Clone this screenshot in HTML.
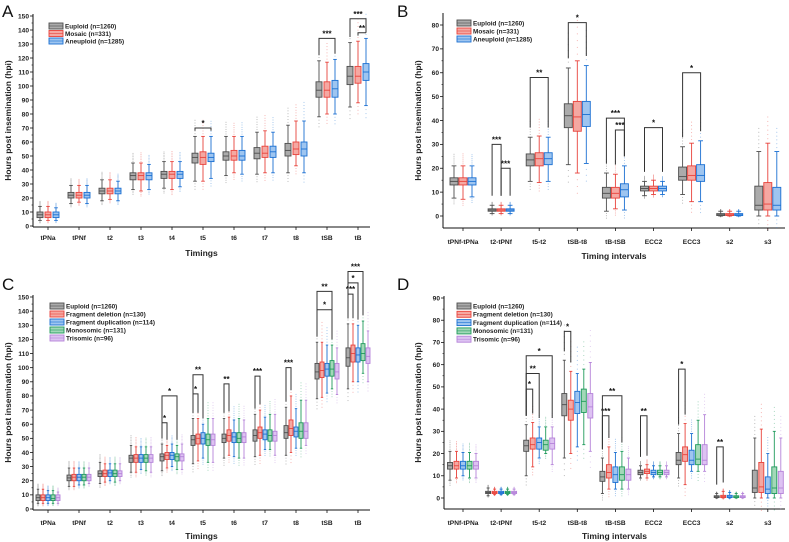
<!DOCTYPE html>
<html><head><meta charset="utf-8"><style>
html,body{margin:0;padding:0;background:#fff;}
svg{display:block;font-family:"Liberation Sans",Arial,sans-serif;}
.t{font-size:6.6px;font-weight:bold;fill:#222;}
.ttl{font-size:8.5px;font-weight:bold;fill:#222;}
.lg{font-size:6.4px;font-weight:bold;fill:#222;}
.pl{font-size:17px;fill:#111;}
.st{font-size:8px;font-weight:bold;fill:#111;}
</style></head><body>
<svg id="fig" width="789" height="542" viewBox="0 0 789 542" xmlns="http://www.w3.org/2000/svg"></svg>
<script>
// ---------- data ----------
const catsA = ["tPNa","tPNf","t2","t3","t4","t5","t6","t7","t8","tSB","tB"];
const catsB = ["tPNf-tPNa","t2-tPNf","t5-t2","tSB-t8","tB-tSB","ECC2","ECC3","s2","s3"];
const groups3 = ["Euploid (n=1260)","Mosaic (n=331)","Aneuploid (n=1285)"];
const groups5 = ["Euploid (n=1260)","Fragment deletion (n=130)","Fragment duplication (n=114)","Monosomic (n=131)","Trisomic (n=96)"];
// box = [q1, median, q3, whiskerLow, whiskerHigh]
const aEuploid  = [[6,8,10,4,14],[20,22,24,16,29],[23,25,27,18,33],[33,36,38,26,45],[34,37,39,27,46],[45,49,52,32,64],[47,50,53,36,64],[48,52,56,37,67],[50,54,59,38,72],[92,97,103,78,118],[101,107,114,85,131]];
const aMosaic   = [[6,8,10,4,14],[20,22,24,17,29],[23,25,27,19,33],[33,36,38,25,45],[34,37,39,26,46],[44,49,53,32,64],[47,50,54,38,64],[49,52,57,38,68],[51,55,60,43,75],[92,97,103,80,117],[102,107,114,88,132]];
const aAneuploid= [[6,8,10,4,13],[20,22,24,16,29],[23,25,27,18,32],[33,36,38,26,44],[34,37,39,28,46],[46,49,52,34,64],[47,50,54,37,64],[49,53,57,38,67],[50,55,60,38,75],[92,98,104,80,119],[104,110,116,86,134]];
const bEuploid  = [[13,14.5,16,7.5,21],[2,2.5,3,1,4.5],[21,23.5,26,14.5,33],[37,42,47,21.5,62],[7.5,9.5,12,2,18],[10.5,11.5,12.5,8.5,14.5],[15,16.5,20.5,9,29],[0.2,0.5,1,0,2],[2.5,4.5,12.5,0,27]];
const bMosaic   = [[13,14.5,16,7,21],[2,2.5,3,1,4.5],[21,24,26.5,14,33.5],[35.5,41.5,48,18,65],[7.5,9.5,12,3,17.5],[10.5,11.5,12.5,9,15],[15,17,21,6,30.5],[0.2,0.5,1,0,2],[2.5,5,14,0,30.5]];
const bAneuploid= [[13,14.5,16,8,21],[2,2.5,3,1,4.5],[21.5,24,26.5,14.5,33],[37.5,42.5,48,22,63],[8,11,13.5,2.5,21],[10.5,11.5,12.5,9,14.5],[14.5,17,21.5,6,31.5],[0.2,0.5,1,0,2],[2.5,4.5,12,0,27]];
const cEuploid  = aEuploid;
const cDeletion = [[6,8,10,4,14],[20,22.5,24.5,16,29],[23,25,27.5,19,32],[33,36,38.5,26,44],[35,38,40,29,45],[46,50,53,34,64],[48,52,56,38,65],[50,54,58,38,70],[52,57,63,40,80],[93,98,104,79,118],[104,110,116,90,131]];
const cDuplic   = [[6,8,10,4,13],[20,22.5,24.5,17,29],[23,25.5,27.5,20,32],[33,36,38.5,28,44],[35,38,40,30,46],[46,50,54,36,60],[47,51,54,37,63],[49,53,56,42,65],[51,55,58,43,71],[94,99,103,82,116],[104,109,114,90,130]];
const cMono     = [[6,7.5,10,4,13],[20,22.5,24.5,17,29],[23,25,27.5,19,32],[33,36,38.5,27,44],[34,37,39,28,45],[45,49,53,33,64],[47,50,54,36,64],[48,52,56,42,67],[50,55,61,43,77],[94,99,105,85,116],[105,110,117,96,133]];
const cTri      = [[6,8,10,4,12],[20,22.5,24.5,18,29],[23,25,27,20,32],[33,36,38.5,26,44],[34,37,39,28,46],[45,49,53,33,64],[47,51,54,36,63],[48,52,55,38,67],[50,55,61,45,77],[92,97,103,81,114],[103,108,114,90,126]];
const dEuploid  = [[13,14.5,16,8,21],[2,2.5,3,1,4.5],[21,23.5,26,10,33],[37,42,47,18,62],[7.5,9.5,12,2,18],[10.5,11.5,12.5,9,14.5],[15,17,20.5,9,29],[0.2,0.5,1,0,2],[2.5,4.5,12.5,0,27]];
const dDeletion = [[13,14.5,16.5,9,21],[2,2.5,3,1.5,4],[22,24,27,14,34],[35,40,44,20,57],[9,11.5,15,4,23],[11,12,13,9,15],[16.5,19.5,23,6,33.5],[0.2,0.6,1.2,0,3],[2.5,5,16,0,31]];
const dDuplic   = [[13,14.5,16.5,10,20.5],[2,2.5,3,1.5,4],[22,25,27,18,32],[38,43,48,23,56],[7,10.5,14,4,20.5],[10.5,11.5,12.5,9.5,14.5],[15,17,21.5,12,29],[0.2,0.5,1.2,0,2.5],[2,4,9.5,0,20]];
const dMono     = [[13,14.5,16.5,9,20.5],[2,2.5,3,1.5,4],[21.5,24,26,20,32],[38.5,43.5,49,24,58],[8,10.5,14,4,21],[10.5,11.5,12.5,9.5,14.5],[15,17.5,24,12,35],[0.2,0.5,1,0,2],[2,4.5,14,0,30]];
const dTri      = [[13,14.5,16.5,9,20],[2,2.5,3,1.5,4],[22,24.5,27,15,32],[36,41,47,21,61],[8,10.5,13,4,18],[10.5,11.5,12.5,9.5,14.5],[15,17,24,12,37.5],[0.2,0.5,1,0,2],[2,4.5,12,0,27]];
// brackets = [category index, group from, group to, value, label]
const bracketsA = [[5,0,2,70,"*"],[9,0,2,134,"***"],[10,0,2,148,"***"],[10,1,2,138,"**"]];
const bracketsB = [[1,0,1,30,"***"],[1,1,2,20,"***"],[2,0,2,58,"**"],[3,0,2,81,"*"],[4,0,2,41,"***"],[4,1,2,36,"***"],[5,0,2,37,"*"],[6,0,2,60,"*"]];
const bracketsC = [[4,0,1,61,"*"],[4,0,3,80,"*"],[5,0,1,81.5,"*"],[5,0,2,95,"**"],[6,0,1,88.5,"**"],[7,0,1,94,"***"],[8,0,1,100,"***"],[9,0,3,141,"*"],[9,0,3,154,"**"],[10,0,1,152,"***"],[10,0,2,160,"*"],[10,0,3,168,"***"]];
const bracketsD = [[2,0,1,49,"*"],[2,0,2,56,"**"],[2,0,4,64,"*"],[3,0,1,75,"*"],[4,0,1,37,"***"],[4,0,3,46,"**"],[5,0,1,37,"**"],[6,0,1,58,"*"],[7,0,1,23,"**"]];
const ticksA = [0,10,20,30,40,50,60,70,80,90,100,110,120,130,140,150];
const ticksB = [0,10,20,30,40,50,60,70,80];
const ticksD = [0,10,20,30,40,50,60,70,80,90];

// ---------- styling ----------
const fills3 = ["#ababab","#f5a8a2","#9ec5f0"], strokes3 = ["#4d4d4d","#e8423b","#1a6fd2"];
const fills5 = ["#ababab","#f5a8a2","#9ec5f0","#a2d8b8","#ddc2f2"], strokes5 = ["#4d4d4d","#e8423b","#1a6fd2","#1f9a5b","#b583d9"];
const NS = "http://www.w3.org/2000/svg";
const svg = document.getElementById('fig');
function mk(tag, attrs, parent){const e=document.createElementNS(NS,tag);for(const k in attrs)e.setAttribute(k,attrs[k]);(parent||svg).appendChild(e);return e;}
function txt(s, attrs, parent){const e=mk('text',attrs,parent);e.textContent=s;return e;}

function panel(cfg){
  const g = mk('g',{});
  
  
  const y = v => cfg.py0 + (v - cfg.v0) * (cfg.py1 - cfg.py0) / (cfg.v1 - cfg.v0);
  const cx = i => cfg.cx0 + i * cfg.cstep;
  const gx = (i, k) => cx(i) + (k - (cfg.series.length - 1) / 2) * cfg.gstep;
  const ax = mk('g',{},g);
  
  
  mk('line',{x1:cfg.ax0,y1:cfg.axTop,x2:cfg.ax0,y2:cfg.axBot,stroke:'#111','stroke-width':1},ax);
  mk('line',{x1:cfg.ax0,y1:cfg.axBot,x2:cfg.ax1,y2:cfg.axBot,stroke:'#111','stroke-width':1},ax);
  cfg.ticks.forEach(t=>{
    mk('line',{x1:cfg.ax0-3,y1:y(t),x2:cfg.ax0,y2:y(t),stroke:'#111','stroke-width':0.8},ax);
    const tl = txt(String(t),{x:cfg.ax0-4,y:y(t)+2.3,'text-anchor':'end',class:'t'},ax);
    
    
  });
  for(let v=cfg.ticks[0]+5; v<cfg.ticks[cfg.ticks.length-1]; v+=10){
    mk('line',{x1:cfg.ax0-1.5,y1:y(v),x2:cfg.ax0,y2:y(v),stroke:'#111','stroke-width':0.6},ax);
  }
  cfg.cats.forEach((c,i)=>{
    mk('line',{x1:cx(i),y1:cfg.axBot,x2:cx(i),y2:cfg.axBot+3,stroke:'#111','stroke-width':0.8},ax);
    const cl = txt(c,{x:cx(i),y:cfg.labY,'text-anchor':'middle',class:'t'},ax);
    
    
  });
  const xt = txt(cfg.xTitle,{x:(cfg.ax0+cfg.ax1)/2,y:cfg.xTitleY,'text-anchor':'middle',class:'ttl'},g);
  
  
  const yt = txt('Hours post insemination (hpi)',{x:0,y:0,'text-anchor':'middle',class:'ttl',transform:`translate(${cfg.yTitleX},${(cfg.axTop+cfg.axBot)/2}) rotate(-90)`},g);
  
  
  const pl = txt(cfg.letter,{x:cfg.letterX,y:cfg.letterY,class:'pl'},g);
  
  
  const bw = cfg.bw;
  cfg.series.forEach((s,k)=>{
    const fill = cfg.fills[k], st = cfg.strokes[k];
    s.forEach((b,i)=>{
      const x = gx(i,k);
      const bg = mk('g',{},g);
      
      
      for(let d=1; d<=6; d++){
        mk('circle',{cx:x,cy:y(b[4]+d*(b[4]-b[3])*0.06),r:0.5,fill:st,opacity:0.5},bg);
      }
      for(let d=1; d<=3; d++){
        mk('circle',{cx:x,cy:y(b[3]-d*(b[4]-b[3])*0.06),r:0.5,fill:st,opacity:0.5},bg);
      }
      mk('line',{x1:x,y1:y(b[3]),x2:x,y2:y(b[4]),stroke:st,'stroke-width':0.9},bg);
      mk('line',{x1:x-bw*0.3,y1:y(b[3]),x2:x+bw*0.3,y2:y(b[3]),stroke:st,'stroke-width':0.9},bg);
      mk('line',{x1:x-bw*0.3,y1:y(b[4]),x2:x+bw*0.3,y2:y(b[4]),stroke:st,'stroke-width':0.9},bg);
      mk('rect',{x:x-bw/2,y:y(b[2]),width:bw,height:Math.max(0.8,y(b[0])-y(b[2])),fill:fill,stroke:st,'stroke-width':0.9},bg);
      mk('line',{x1:x-bw/2,y1:y(b[1]),x2:x+bw/2,y2:y(b[1]),stroke:st,'stroke-width':0.9},bg);
    });
  });
  cfg.brackets.forEach(br=>{
    const [i,a,b,v,lab] = br;
    const xa = gx(i,a), xb = gx(i,b);
    const da = cfg.series[a][i][4] + cfg.gap, db = cfg.series[b][i][4] + cfg.gap;
    const bg = mk('g',{},g);
    
    
    mk('polyline',{points:`${xa},${y(Math.min(da,v))} ${xa},${y(v)} ${xb},${y(v)} ${xb},${y(Math.min(db,v))}`,fill:'none',stroke:'#333','stroke-width':1},bg);
    txt(lab,{x:(xa+xb)/2,y:y(v)-2,'text-anchor':'middle',class:'st'},bg);
  });
  const lg = mk('g',{},g);
  
  
  cfg.legendNames.forEach((n,k)=>{
    const yy = cfg.lgY0 + k*cfg.lgStep;
    const e = mk('g',{},lg);
    
    
    mk('rect',{x:cfg.lgX,y:yy-3,width:14,height:6,fill:cfg.fills[k],stroke:cfg.strokes[k],'stroke-width':0.9},e);
    mk('line',{x1:cfg.lgX,y1:yy,x2:cfg.lgX+14,y2:yy,stroke:cfg.strokes[k],'stroke-width':0.6},e);
    txt(n,{x:cfg.lgX+16,y:yy+2.3,class:'lg'},e);
  });
}

panel({name:'panel-a',letter:'A',letterX:2,letterY:17,v0:0,v1:150,py0:226,py1:16,ax0:33,ax1:370,axTop:14,axBot:227,
  ticks:ticksA,cats:catsA,cx0:48,cstep:31,gstep:8,bw:6,series:[aEuploid,aMosaic,aAneuploid],fills:fills3,strokes:strokes3,
  brackets:bracketsA,gap:4,legendNames:groups3,lgX:49,lgY0:26,lgStep:7.5,labY:240,xTitle:'Timings',xTitleY:256,yTitleX:11});
panel({name:'panel-b',letter:'B',letterX:397,letterY:17,v0:0,v1:80,py0:216,py1:25,ax0:443,ax1:785,axTop:13,axBot:228,
  ticks:ticksB,cats:catsB,cx0:463,cstep:38.1,gstep:9,bw:8,series:[bEuploid,bMosaic,bAneuploid],fills:fills3,strokes:strokes3,
  brackets:bracketsB,gap:4,legendNames:groups3,lgX:457,lgY0:23,lgStep:8,labY:244,xTitle:'Timing intervals',xTitleY:259,yTitleX:421});
panel({name:'panel-c',letter:'C',letterX:2,letterY:290,v0:0,v1:150,py0:509,py1:297,ax0:33,ax1:370,axTop:295,axBot:510,
  ticks:ticksA,cats:catsA,cx0:48,cstep:31,gstep:5,bw:4,series:[cEuploid,cDeletion,cDuplic,cMono,cTri],fills:fills5,strokes:strokes5,
  brackets:bracketsC,gap:4,legendNames:groups5,lgX:50,lgY0:306,lgStep:8,labY:525,xTitle:'Timings',xTitleY:539,yTitleX:11});
panel({name:'panel-d',letter:'D',letterX:397,letterY:290,v0:0,v1:90,py0:498,py1:298,ax0:444,ax1:785,axTop:296,axBot:509,
  ticks:ticksD,cats:catsB,cx0:463,cstep:38.1,gstep:6.5,bw:5,series:[dEuploid,dDeletion,dDuplic,dMono,dTri],fills:fills5,strokes:strokes5,
  brackets:bracketsD,gap:4,legendNames:groups5,lgX:457,lgY0:306,lgStep:8.3,labY:525,xTitle:'Timing intervals',xTitleY:539,yTitleX:421});
</script>
</body></html>
